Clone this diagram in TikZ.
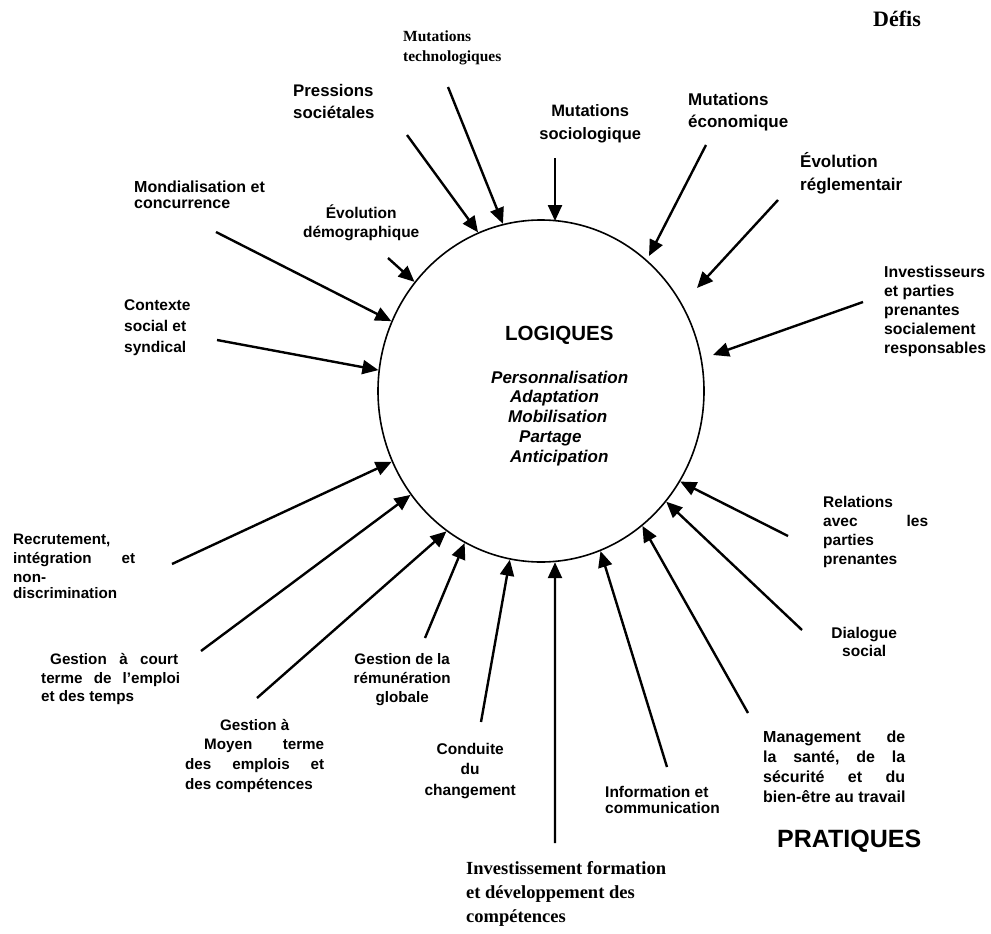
\documentclass[tikz,border=0pt]{standalone}
\usepackage{fontspec}
\setmainfont{Liberation Serif}
\setsansfont{Liberation Sans}
\usetikzlibrary{arrows.meta,shapes.geometric,calc,intersections}

% stack of lines whose first baseline is the box baseline
\newcommand\labtext[2]{\vtop{\baselineskip=#1pt\lineskiplimit=-100pt\lineskip=0pt\relax #2}}

\begin{document}
\begin{tikzpicture}[x=1pt,y=-1pt,
  feed/.style={line width=2.4pt,-{Triangle[length=16pt,width=14pt]}},
  sanslab/.style={font={\fontsize{#1}{#1}\selectfont\sffamily\bfseries},inner sep=0pt,anchor=base west},
  serlab/.style={font={\fontsize{#1}{#1}\selectfont\rmfamily\bfseries},inner sep=0pt,anchor=base west},
  itlab/.style={font={\fontsize{#1}{#1}\selectfont\sffamily\bfseries\itshape},inner sep=0pt,anchor=base west},
  hub/.style={draw,ellipse,line width=1.6pt,inner sep=0pt,minimum width=326pt,minimum height=342pt}]

\useasboundingbox (0,0) rectangle (991,934);

% central ellipse, and its outline for the arrow heads to stop on
\node[hub] (circ) at (541,391) {};
\path[name path=rim] (541,391) ellipse [x radius=163.8, y radius=171.8];
\node[sanslab=20.5] (logiques) at (505,340) {LOGIQUES};
\node[itlab=17] (principes) at (491,383) {\labtext{19.75}{\hbox{Personnalisation}\hbox{\hskip19pt Adaptation}\hbox{\hskip17pt Mobilisation}\hbox{\hskip28pt Partage}\hbox{\hskip19pt Anticipation}}};

% challenges
\node[serlab=22] (defis) at (873,27) {Défis};
\node[serlab=15.5] (techno) at (403,42) {\labtext{20}{\hbox{Mutations}\hbox{technologiques}}};
\node[sanslab=16.8] (press) at (293,96) {\labtext{22}{\hbox{Pressions}\hbox{sociétales}}};
\node[sanslab=16.5] (socio) at (538,117) {\labtext{23}{\hbox to 104pt{\hfil Mutations\hfil}\hbox to 104pt{\hfil sociologique\hfil}}};
\node[sanslab=17] (eco) at (688,106) {\labtext{22}{\hbox{Mutations}\hbox{économique}}};
\node[sanslab=17] (regl) at (800,167) {\labtext{23}{\hbox{Évolution}\hbox{réglementair}}};
\node[sanslab=15.8] (invest) at (884,277) {\labtext{19}{\hbox{Investisseurs}\hbox{et parties}\hbox{prenantes}\hbox{socialement}\hbox{responsables}}};
\node[sanslab=16] (mondial) at (134,192) {\labtext{16}{\hbox{Mondialisation et}\hbox{concurrence}}};
\node[sanslab=15.5] (demo) at (301,218) {\labtext{19}{\hbox to 120pt{\hfil Évolution\hfil}\hbox to 120pt{\hfil démographique\hfil}}};
\node[sanslab=15.5] (contexte) at (124,310) {\labtext{21}{\hbox{Contexte}\hbox{social et}\hbox{syndical}}};

% practices
\node[sanslab=15.2] (recrut) at (13,544) {\labtext{19}{\hbox to 122pt{Recrutement,\hfil}\hbox to 122pt{intégration\hfill et}\hbox{non-}\kern-3pt\hbox{discrimination}}};
\node[sanslab=15.2] (court) at (41,664) {\labtext{19}{\hbox to 139pt{\hskip9pt Gestion\hfill à\hfill court\hskip2pt}\hbox to 139pt{terme\hfill de\hfill l’emploi}\kern-1pt\hbox{et des temps}}};
\node[sanslab=15.2] (moyen) at (185,730) {\labtext{19.7}{\hbox to 139pt{\hfil Gestion à\hfil}\hbox to 139pt{\hskip19pt Moyen\hfill terme}\hbox to 139pt{des\hfill emplois\hfill et}\hbox{des compétences}}};
\node[sanslab=15.2] (remun) at (352,664) {\labtext{19}{\hbox to 100pt{\hfil Gestion de la\hfil}\hbox to 100pt{\hfil rémunération\hfil}\hbox to 100pt{\hfil globale\hfil}}};
\node[sanslab=15.5] (conduite) at (420,754) {\labtext{20.5}{\hbox to 100pt{\hfil Conduite\hfil}\hbox to 100pt{\hfil du\hfil}\hbox to 100pt{\hfil changement\hfil}}};
\node[sanslab=15.5] (info) at (605,797) {\labtext{16}{\hbox{Information et}\hbox{communication}}};
\node[serlab=18.5] (formation) at (466,874) {\labtext{24}{\hbox{Investissement formation}\hbox{et développement des}\hbox{compétences}}};
\node[sanslab=15.5] (relations) at (823,507) {\labtext{19}{\hbox to 105pt{Relations\hfil}\hbox to 105pt{avec\hfill les}\hbox{parties}\hbox{prenantes}}};
\node[sanslab=15.5] (dialogue) at (824,638) {\labtext{18}{\hbox to 80pt{\hfil Dialogue\hfil}\hbox to 80pt{\hfil social\hfil}}};
\node[sanslab=16] (sante) at (763,742) {\labtext{20}{\hbox to 142pt{Management\hfill de}\hbox to 142pt{la\hfill santé,\hfill de\hfill la}\hbox to 142pt{sécurité\hfill et\hfill du}\hbox{bien-être au travail}}};
\node[sanslab=25] (pratiques) at (777,847) {PRATIQUES};

% arrow tails at the labels, and the point each arrow aims at
\coordinate (techno-s) at (448,87);    \coordinate (techno-e) at (501,219);
\coordinate (press-s) at (407,135);    \coordinate (press-e) at (480,235);
\coordinate (socio-s) at (555,158);    \coordinate (socio-e) at (555,221);
\coordinate (eco-s) at (706,145);      \coordinate (eco-e) at (649,256);
\coordinate (regl-s) at (778,200);     \coordinate (regl-e) at (697,288);
\coordinate (invest-s) at (863,302);   \coordinate (invest-e) at (713,355);
\coordinate (mondial-s) at (216,232);  \coordinate (mondial-e) at (391,321);
\coordinate (demo-s) at (388,258);     \coordinate (demo-e) at (418,285);
\coordinate (contexte-s) at (217,340); \coordinate (contexte-e) at (378,370);
\coordinate (recrut-s) at (172,564);   \coordinate (recrut-e) at (389,463);
\coordinate (court-s) at (201,651);    \coordinate (court-e) at (401,502);
\coordinate (moyen-s) at (257,698);    \coordinate (moyen-e) at (440,537);
\coordinate (remun-s) at (425,638);    \coordinate (remun-e) at (468,535);
\coordinate (conduite-s) at (481,722); \coordinate (conduite-e) at (511,553);
\coordinate (formation-s) at (555,843);\coordinate (formation-e) at (555,563);
\coordinate (info-s) at (667,767);     \coordinate (info-e) at (598,543);
\coordinate (sante-s) at (748,713);    \coordinate (sante-e) at (643,527);
\coordinate (dialogue-s) at (802,630); \coordinate (dialogue-e) at (676,511);
\coordinate (relations-s) at (788,536);\coordinate (relations-e) at (691,487);

% these arrows run from the tail until they meet the ellipse
\foreach \k in {techno,press,mondial,demo,contexte,
  recrut,court,moyen,remun,conduite,formation,info,sante,dialogue,relations}{
  \path[name path=ray] (\k-s) -- ($(\k-s)!1.35!(\k-e)$);
  \path[name intersections={of=ray and rim,sort by=ray,by={\k-h}}];
  \draw[feed] (\k-s) -- (\k-h);
}
% these stop at their own end point, a little off the ellipse
\foreach \k in {socio,eco,regl,invest}
  \draw[feed] (\k-s) -- (\k-e);

\end{tikzpicture}
\end{document}
